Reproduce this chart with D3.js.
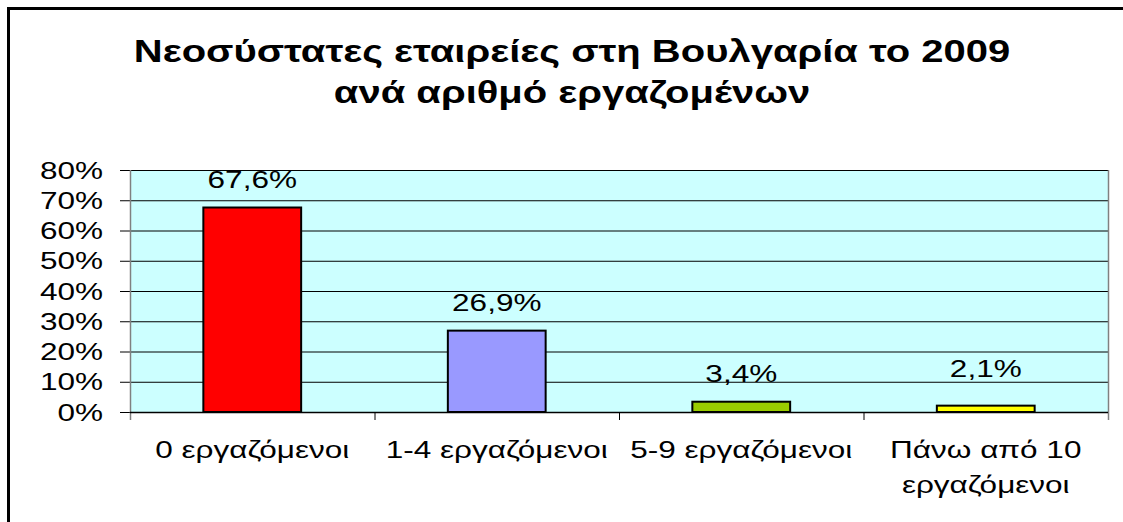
<!DOCTYPE html>
<html>
<head>
<meta charset="utf-8">
<script src="https://cdn.jsdelivr.net/npm/d3@7"></script>
<style>
  body { margin: 0; background: #fff; }
  svg { display: block; }
  text { font-family: "Liberation Sans", Arial, sans-serif; fill: #000; }
</style>
</head>
<body>
<div id="chart"></div>
<script>
var titleLines = ["Νεοσύστατες εταιρείες στη Βουλγαρία το 2009", "ανά αριθμό εργαζομένων"];
var categories = ["0 εργαζόμενοι", "1-4 εργαζόμενοι", "5-9 εργαζόμενοι", "Πάνω από 10 εργαζόμενοι"];
var values = [67.6, 26.9, 3.4, 2.1];
var valueLabels = ["67,6%", "26,9%", "3,4%", "2,1%"];
var barColors = ["#ff0000", "#9999ff", "#99cc00", "#ffff00"];
var yTicks = [0, 10, 20, 30, 40, 50, 60, 70, 80];

var width = 1123, height = 522;
var plot = {left: 130, right: 1108, top: 170, bottom: 412};
var sx = 1.37;            // the picture is stretched sideways
var labelGap = [20, 20, 20, 29];

var svg = d3.select("#chart").append("svg")
    .attr("width", width)
    .attr("height", height);

// outer frame (only top and left edges show)
svg.append("path")
    .attr("d", `M8.5,${height} V8.5 H${width}`)
    .style("fill", "none")
    .style("stroke", "#000")
    .style("stroke-width", 3);

var titleG = svg.append("g");
titleLines.forEach(function(line, i) {
    titleG.append("text")
        .text(line)
        .attr("transform", `translate(572, ${62 + i * 41}) scale(1.29, 1)`)
        .style("text-anchor", "middle")
        .style("font-weight", "bold")
        .style("font-size", "31px");
});

var x = d3.scaleBand()
    .domain(categories)
    .range([plot.left, plot.right])
    .paddingInner(0)
    .paddingOuter(0);

var y = d3.scaleLinear()
    .domain([0, 80])
    .range([plot.bottom, plot.top]);

// plot background
svg.append("rect")
    .attr("x", plot.left)
    .attr("y", plot.top)
    .attr("width", plot.right - plot.left)
    .attr("height", plot.bottom - plot.top)
    .style("fill", "#ccffff");

// gridlines with ticks
var yAxis = svg.append("g")
    .attr("transform", `translate(${plot.left}, 0)`)
    .call(d3.axisLeft(y).tickValues(yTicks).tickSize(0).tickFormat(""));
yAxis.select(".domain").remove();
yAxis.selectAll(".tick line").remove();
yAxis.selectAll(".tick").append("line")
    .attr("x1", -10)
    .attr("x2", plot.right - plot.left)
    .style("stroke", "#000")
    .style("stroke-width", 1);
yAxis.selectAll(".tick").append("text")
    .text(d => d + "%")
    .attr("transform", `translate(-27, 8) scale(${sx}, 1)`)
    .style("text-anchor", "end")
    .style("font-size", "23px");

// plot side borders
[plot.left, plot.right].forEach(function(px) {
    svg.append("line")
        .attr("x1", px + 0.5).attr("x2", px + 0.5)
        .attr("y1", plot.top).attr("y2", plot.bottom + 8)
        .style("stroke", "#808080")
        .style("stroke-width", 1.5);
});

// category separators
categories.slice(1).forEach(function(c) {
    svg.append("line")
        .attr("x1", x(c) + 0.5).attr("x2", x(c) + 0.5)
        .attr("y1", plot.bottom).attr("y2", plot.bottom + 8)
        .style("stroke", "#000")
        .style("stroke-width", 1);
});

// bars
var barW = x.bandwidth() * 0.4;
svg.append("g").selectAll("rect")
    .data(values)
    .enter()
    .append("rect")
    .attr("x", (d, i) => x(categories[i]) + (x.bandwidth() - barW) / 2)
    .attr("y", d => y(d))
    .attr("width", barW)
    .attr("height", d => y(0) - y(d))
    .style("fill", (d, i) => barColors[i])
    .style("stroke", "#000")
    .style("stroke-width", 2);

// x axis line
svg.append("line")
    .attr("x1", plot.left).attr("x2", plot.right)
    .attr("y1", plot.bottom + 0.5).attr("y2", plot.bottom + 0.5)
    .style("stroke", "#000")
    .style("stroke-width", 1.5);

// value labels
svg.append("g").selectAll("text")
    .data(values)
    .enter()
    .append("text")
    .text((d, i) => valueLabels[i])
    .attr("transform", (d, i) =>
        `translate(${x(categories[i]) + x.bandwidth() / 2}, ${y(d) - labelGap[i]}) scale(${sx}, 1)`)
    .style("text-anchor", "middle")
    .style("font-size", "23px");

// category labels, wrapped to the band width
function wrapWords(text, maxChars) {
    var words = text.split(" "), lines = [], cur = "";
    words.forEach(function(w) {
        var test = cur ? cur + " " + w : w;
        if (test.length > maxChars && cur) { lines.push(cur); cur = w; }
        else cur = test;
    });
    lines.push(cur);
    return lines;
}
var catG = svg.append("g");
categories.forEach(function(c) {
    wrapWords(c, 15).forEach(function(line, j) {
        catG.append("text")
            .text(line)
            .attr("transform", `translate(${x(c) + x.bandwidth() / 2}, ${458 + j * 35}) scale(${sx}, 1)`)
            .style("text-anchor", "middle")
            .style("font-size", "23px");
    });
});
</script>
</body>
</html>
